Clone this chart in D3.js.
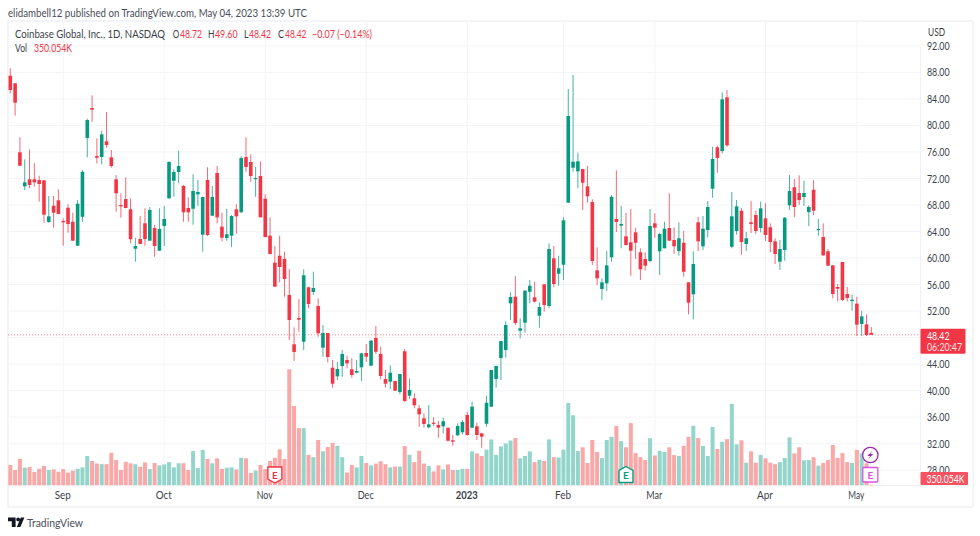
<!DOCTYPE html>
<html>
<head>
<meta charset="utf-8">
<script src="https://cdnjs.cloudflare.com/ajax/libs/d3/7.8.5/d3.min.js"></script>
<style>
  html, body { margin: 0; padding: 0; background: #fff; }
  svg { display: block; }
  text { font-family: Lato, sans-serif; }
</style>
</head>
<body>
<svg id="chart" width="980" height="536"></svg>
<script>
// one row of ten per line, first candle is 2022-08-17
const opens = [
  87.5,86.36,75.95,70.82,71.88,71.88,71.77,71.72,65.44,67.89,
  68.71,65.59,67.59,65.48,61.86,66.23,78.11,82.63,75.39,75.24,
  77.61,75.19,71.88,68.0,68.9,67.35,61.41,62.87,65.24,62.62,
  64.53,61.11,64.83,69.01,71.66,72.98,70.87,67.55,67.44,69.61,
  63.52,71.77,66.39,72.83,64.73,63.02,63.37,67.35,66.9,75.24,
  74.49,71.92,72.37,68.95,63.37,59.3,60.35,59.86,54.42,46.99,
  50.96,47.38,55.59,54.88,52.77,46.48,48.69,43.46,42.16,43.72,
  44.62,43.22,42.71,43.52,45.68,43.76,47.94,45.53,41.76,41.35,
  41.45,39.79,45.93,39.24,38.84,37.33,35.83,34.47,35.16,34.82,
  34.62,34.41,32.51,33.26,33.72,36.33,34.41,34.62,33.56,35.01,
  37.58,41.76,44.92,46.13,53.17,54.17,49.04,50.25,54.92,54.08,
  51.3,56.04,52.77,59.96,57.64,58.99,68.35,73.63,73.08,73.43,
  70.82,68.45,58.15,55.33,56.19,60.11,65.89,64.88,63.28,62.37,
  63.88,60.87,59.86,59.55,65.24,61.02,61.47,64.53,62.72,61.06,
  62.31,56.34,54.53,65.39,61.77,64.23,70.46,76.7,76.14,84.24,
  61.71,64.08,67.14,62.12,65.39,66.49,64.53,65.99,64.64,62.52,
  59.45,61.21,67.95,70.67,69.81,69.21,66.94,70.31,64.23,63.17,
  61.02,58.9,55.63,59.4,54.58,53.52,53.12,50.05,50,48.72
];
const highs = [
  88.62,86.36,78.21,74.89,76.4,74.29,72.42,71.77,69.36,69.36,
  70.37,65.99,68.11,66.84,68.75,73.28,81.02,84.55,78.06,79.21,
  82.03,76.3,72.52,69.76,72.18,69.01,63.07,66.34,67.5,67.7,
  64.98,67.5,67.85,74.59,73.38,76.19,71.02,69.16,72.63,71.77,
  69.25,73.69,70.87,73.88,66.84,67.44,66.49,68.11,75.39,78.21,
  75.65,73.73,74.59,69.61,66.14,61.82,63.37,60.96,58.35,49.55,
  53.82,58.3,55.68,57.94,53.93,49.9,48.69,44.62,44.32,46.13,
  45.27,44.88,44.62,45.72,47.03,47.64,49.75,46.63,43.11,43.82,
  41.5,42.55,46.28,41.86,39.6,37.83,36.58,37.83,35.98,35.42,
  35.92,34.41,33.31,35.07,35.57,36.82,38.33,35.17,33.61,39.24,
  43.11,43.76,47.49,50.46,54.83,57.29,50.91,55.18,56.69,56.43,
  53.33,56.04,62.22,61.82,60.35,66.14,85.5,87.61,75.89,73.43,
  73.88,68.86,61.62,56.94,61.06,69.51,73.23,67.85,66.84,67.4,
  64.58,61.47,60.87,67.4,66.75,63.82,65.48,69.76,64.64,65.39,
  64.08,56.34,61.02,66.19,66.34,68.6,76.79,76.94,85,85.35,
  69.96,68.75,67.55,63.93,68.6,67.14,68.5,68.26,65.24,62.98,
  62.72,66.19,72.52,71.92,72.48,71.66,67.95,71.77,65.89,65.24,
  61.36,58.95,56.08,59.4,55.63,54.47,54.17,52.06,51.51,49.6
];
const lows = [
  84.85,81.47,73.88,70.26,70.52,70.76,68.5,65.33,65.33,64.58,
  66.6,61.86,63.82,62.57,61.82,65.44,75.19,80.56,74.29,74.14,
  76.64,73.63,66.99,66.08,67.5,62.22,59.45,62.12,61.86,62.62,
  60.2,61.11,61.82,68.95,69.25,71.27,65.48,65.48,65.03,67.85,
  60.96,63.32,66.34,65.24,62.52,62.62,61.66,63.67,66.84,73.02,
  71.51,69.25,66.14,63.13,60.56,55.68,56.34,54.17,47.64,44.47,
  48.89,46.13,52.42,54.42,48.13,45.12,44.27,40.45,41.6,42.1,
  43.37,41.95,42.62,41.45,44.32,43.72,45.53,41.71,40.45,40.25,
  39.95,39.49,38.33,38.74,37.33,34.56,34.41,34.32,34.67,32.9,
  33.56,32.3,31.7,33.2,33.41,33.2,34.32,32.56,31.39,34.56,
  37.58,40.45,41.6,44.97,50.66,49.9,47.89,48.74,53.17,53.33,
  49.49,51.91,52.42,55.59,55.83,56.69,68.35,73.02,70.52,67.25,
  68.35,58.95,55.93,53.67,55.03,59.45,63.93,61.47,61.86,57.34,
  59.86,56.69,58.09,59.36,63.07,57.44,61.47,62.62,60.61,60.35,
  57.19,51.51,50.76,61.06,61.21,63.13,69.1,72.87,75.8,76.79,
  61.47,63.52,60.5,61.06,63.78,63.67,63.88,62.57,60.87,59.1,
  58.2,59.6,67.25,66.19,68,67.85,64.83,66.49,63.37,60.31,
  58.8,53.93,53.52,53.57,53.47,52.06,48.24,48.24,48.24,48.42
];
const closes = [
  85.35,83.43,73.93,71.42,71.02,71.42,71.17,66.54,66.29,66.84,
  66.64,65.39,65.13,62.62,68.2,73.02,80.82,82.37,75.13,78.66,
  77.05,73.88,69.76,67.8,67.55,62.83,61.82,62.12,62.87,67.25,
  61.82,64.38,65.89,74.49,72.98,73.88,66.9,66.9,70.11,69.96,
  69.21,63.48,69.21,66.14,63.07,63.58,66.34,66.29,75.09,73.73,
  72.37,72.07,66.14,63.17,60.61,55.68,58.65,56.84,50.66,45.83,
  50.7,57.4,53.07,55.48,48.65,48.69,45.07,41.05,43.27,45.53,
  44.12,42.36,42.96,45.63,45.12,47.53,45.87,42.21,41.05,42.71,
  39.99,42.51,38.44,40.1,37.79,36.43,34.97,34.92,35.01,34.41,
  35.38,32.45,32.3,34.67,35.27,33.31,37.58,33.31,33.05,38.18,
  43.11,43.72,47.49,49.9,54.12,50.2,49.4,55.07,55.83,53.42,
  52.62,52.92,61.36,56.08,58.45,65.69,81.42,74.53,74.59,71.36,
  69.31,59.56,56.94,56.34,58.9,69.25,65.44,65.13,61.97,61.11,
  62.31,58.3,58.85,64.83,64.58,63.63,64.43,62.62,61.77,62.98,
  57.94,53.26,59.1,62.52,64.43,67.7,74.94,75.09,83.94,77,
  66.29,67.8,62.42,62.98,65.13,64.08,67.5,63.48,62.42,60.61,
  61.36,66.08,70.11,67.7,68.75,69.81,67.7,67.14,64.38,60.41,
  58.85,54.58,55.38,53.67,53.97,53.72,49.95,51.21,48.39,48.42
];
// volume in millions
const volumes = [
  7.1,5.4,9.2,6.2,6.4,4.7,5.8,6.8,5.4,5.6,
  4.8,5.7,4.5,5.2,5.8,6.3,10.2,8.5,7.6,7.4,
  7.4,11.3,8.8,5.4,8.2,7.7,7.4,6.5,8.0,5.7,
  7.8,7.0,7.3,8.1,6.3,7.7,7.7,5.4,11.9,6.1,
  12.3,9.2,7.7,9.4,5.8,6.2,6.3,5.6,9.6,9.4,
  4.4,5.2,7.1,5.7,8.5,9.6,12.5,9.2,40,27.4,
  19.8,19.8,10.6,9.8,15.7,11.8,13.3,14.7,13.7,9.8,
  4.5,7.1,6.3,10.2,7.8,7.0,7.6,8.4,7.4,6.3,
  6.6,6.6,13.6,10.6,8.1,12.0,7.6,6.8,4.9,7.0,
  5.6,7.3,5.4,5.4,5.8,5.8,11.8,11.1,10.2,12.4,
  15.9,10.6,13.5,14.5,15.5,16.4,9.4,10.2,11.8,8.1,
  8.9,8.5,15.9,9.8,9.7,12.4,28.4,24.2,11.9,13.2,
  7.8,15.7,11.6,9.5,15.7,16.8,20.5,15.3,13.2,21.5,
  11.2,9.8,8.8,16.3,10.4,12.0,11.6,13.2,10.5,10.2,
  13.7,16.8,20.6,16.4,13.7,10.2,20.2,12.6,15.1,16.0,
  28.1,14.2,15.6,7.9,11.8,7.9,10.6,9.4,7.9,7.4,
  8.1,9.5,16.6,11.1,13.2,8.7,8.8,9.8,6.9,7.8,
  8.9,14.0,9.6,11.2,8.1,7.8,12.3,11.1,7.7,0.35
];
const holidays = ["2022-09-05","2022-11-24","2022-12-26","2023-01-02","2023-01-16","2023-02-20","2023-04-07"];
const monthTicks = ["2022-09-01","2022-10-03","2022-11-01","2022-12-01","2023-01-03","2023-02-01","2023-03-01","2023-04-03","2023-05-01"];
const monthLabels = ["Sep","Oct","Nov","Dec","2023","Feb","Mar","Apr","May"];
const priceTicks = [28,32,36,40,44,48,52,56,60,64,68,72,76,80,84,88,92];
const earningsDays = ["2022-11-03","2023-02-21"];
const lastDay = "2023-05-04";
const lastPrice = 48.42, countdown = "06:20:47", lastVolume = "350.054K";

const GREEN = "#089981", RED = "#f23645", INK = "#3b3f4a";
const left = 8, right = 920, frameRight = 973, frameTop = 21, frameBottom = 507, volBase = 485.7;

// Lato runs a bit wide next to the original font, pull the glyphs in to the width
let label = (xPos, yPos, str, width, color) =>
  svg.append("text").attr("x", xPos).attr("y", yPos).attr("font-size", 11).attr("fill", color || INK)
    .attr("textLength", width).attr("lengthAdjust", "spacingAndGlyphs").text(str);

// trading days, weekends and market holidays dropped
const fmt = d3.utcFormat("%Y-%m-%d");
const dates = d3.utcDay.range(new Date("2022-08-17"), new Date("2023-05-05"))
  .filter(d => d.getUTCDay() % 6 !== 0 && !holidays.includes(fmt(d)))
  .map(fmt);

const x = d3.scalePoint().domain(dates).range([10.3, 871.3]);
const y = d3.scaleLinear().domain([28, 92]).range([470.2, 45.9]);
const v = d3.scaleLinear().domain([0, 40]).range([volBase, 369.3]);

const svg = d3.select("#chart");

label(8, 16.5, "elidambell12 published on TradingView.com, May 04, 2023 13:39 UTC", 299, "#4a4e59");

svg.append("rect").attr("x", left).attr("y", frameTop).attr("width", frameRight - left).attr("height", frameBottom - frameTop)
  .attr("fill", "#fff").attr("stroke", "#e8eaf0");

// grid
svg.append("g").selectAll("line").data(priceTicks).join("line")
  .attr("x1", left).attr("x2", right).attr("y1", d => y(d)).attr("y2", d => y(d))
  .attr("stroke", "#f3f4f8");
svg.append("g").selectAll("line").data(monthTicks).join("line")
  .attr("x1", d => x(d)).attr("x2", d => x(d)).attr("y1", frameTop).attr("y2", volBase)
  .attr("stroke", "#f3f4f8");

// volume
svg.append("g").selectAll("rect").data(dates).join("rect")
  .attr("x", d => x(d) - 2)
  .attr("width", 4)
  .attr("y", (d, i) => v(volumes[i]))
  .attr("height", (d, i) => volBase - v(volumes[i]))
  .attr("fill", (d, i) => closes[i] >= opens[i] ? "#93d5ca" : "#f9a7a7");

// last price line
svg.append("line").attr("x1", left).attr("x2", right).attr("y1", y(lastPrice)).attr("y2", y(lastPrice))
  .attr("stroke", RED).attr("stroke-opacity", 0.6).attr("stroke-dasharray", "1 2");

// candles
const candle = svg.append("g").selectAll("g").data(dates).join("g")
  .attr("fill", (d, i) => closes[i] >= opens[i] ? GREEN : RED)
  .attr("stroke", (d, i) => closes[i] >= opens[i] ? GREEN : RED);
candle.append("line")
  .attr("x1", d => x(d)).attr("x2", d => x(d))
  .attr("y1", (d, i) => y(highs[i])).attr("y2", (d, i) => y(lows[i]))
  .attr("stroke-width", 1).attr("stroke-opacity", 0.75);
candle.append("rect")
  .attr("stroke", "none")
  .attr("x", d => x(d) - 1.8)
  .attr("width", 3.6)
  .attr("y", (d, i) => y(Math.max(opens[i], closes[i])))
  .attr("height", (d, i) => Math.max(1.2, Math.abs(y(opens[i]) - y(closes[i]))));

// axes
const priceAxis = svg.append("g").attr("transform", "translate(" + right + ",0)")
  .call(d3.axisRight(y).tickValues(priceTicks).tickFormat(d3.format(".2f")).tickSize(0).tickPadding(7));
const timeAxis = svg.append("g").attr("transform", "translate(0," + volBase + ")")
  .call(d3.axisBottom(x).tickValues(monthTicks).tickFormat(d => monthLabels[monthTicks.indexOf(d)]).tickSize(0).tickPadding(6));
priceAxis.select(".domain").attr("stroke", "#f0f1f5");
timeAxis.select(".domain").remove();
svg.append("line").attr("x1", left).attr("x2", right).attr("y1", volBase).attr("y2", volBase).attr("stroke", "#eceef3");
[priceAxis, timeAxis].forEach(a => a.selectAll("text")
  .attr("font-family", "Lato, sans-serif").attr("font-size", 11).attr("fill", INK).attr("lengthAdjust", "spacingAndGlyphs"));
priceAxis.selectAll("text").attr("textLength", 22.5);
// 48.00 sits behind the last price tag in the original
priceAxis.selectAll(".tick").filter(d => d === 48).remove();
timeAxis.selectAll("text").attr("dx", -1).attr("textLength", d => d === "2023-01-03" ? 22 : 16);
timeAxis.selectAll("text").filter(d => d === "2023-01-03").attr("font-weight", 700);

label(928, 36, "USD", 17);

// price and volume labels
svg.append("rect").attr("x", 920.5).attr("y", y(lastPrice) - 6).attr("width", 45).attr("height", 25).attr("rx", 1).attr("fill", RED);
label(927, y(lastPrice) + 4.8, lastPrice.toFixed(2), 22.5, "#fff");
label(927, y(lastPrice) + 16.5, countdown, 35, "#fde3e5");
svg.append("rect").attr("x", 920.5).attr("y", 472).attr("width", 47.5).attr("height", 13).attr("rx", 1).attr("fill", "#f7525f");
label(926.5, 482.5, lastVolume, 38, "#fff");

// legend
label(15, 38, "Coinbase Global, Inc., 1D, NASDAQ", 150);
label(172.8, 38, "O", 6.5);
label(180, 38, "48.72", 22, RED);
label(208, 38, "H", 6.5);
label(215, 38, "49.60", 22.5, RED);
label(244, 38, "L", 4.5);
label(249, 38, "48.42", 22, RED);
label(278, 38, "C", 6);
label(285, 38, "48.42", 21.5, RED);
label(312, 38, "−0.07 (−0.14%)", 60, RED);
label(15, 51.5, "Vol", 12);
label(34, 51.5, lastVolume, 38, RED);

// earnings badges
earningsDays.forEach((d, i) => {
  const color = i === 0 ? RED : GREEN;
  const cx = x(d), top = i === 0 ? 467 : 466.5, h = 16;
  const shape = i === 0
    ? [[-7, 0], [7, 0], [7, h - 4], [0, h], [-7, h - 4]]
    : [[0, 0], [7, 4], [7, h], [-7, h], [-7, 4]];
  svg.append("polygon").attr("points", shape.map(p => (cx + p[0]) + "," + (top + p[1])).join(" "))
    .attr("fill", "#fff").attr("stroke", color).attr("stroke-width", 1.4);
  svg.append("text").attr("x", cx).attr("y", top + 12).attr("text-anchor", "middle")
    .attr("font-size", 10).attr("font-weight", 700).attr("fill", color).text("E");
});

// next dividend/earnings markers on the last day
const lx = x(lastDay) - 1;
svg.append("circle").attr("cx", lx).attr("cy", 455).attr("r", 7.7).attr("fill", "#fff").attr("stroke", "#9c27b0").attr("stroke-width", 1.3);
svg.append("path").attr("d", `M${lx + 2.5},450.5 L${lx - 3},456 H${lx} L${lx - 2.5},459.5 L${lx + 3},454 H${lx}Z`).attr("fill", "#9c27b0");
svg.append("rect").attr("x", lx - 7.5).attr("y", 467.5).attr("width", 15).attr("height", 14.5).attr("rx", 1)
  .attr("fill", "#fff").attr("stroke", "#e04fe8").attr("stroke-width", 1.3);
svg.append("text").attr("x", lx).attr("y", 479).attr("text-anchor", "middle")
  .attr("font-size", 10).attr("font-weight", 700).attr("fill", "#e04fe8").text("E");

// logo
svg.append("path").attr("d", "M8,517.5h7.6v9.6h-3.8v-5.8h-3.8z M20.8,517.5h3.6l-4,9.6h-3.6z").attr("fill", "#131722");
svg.append("circle").attr("cx", 18.2).attr("cy", 519.4).attr("r", 1.9).attr("fill", "#131722");
label(27, 526.5, "TradingView", 56, "#4a4e59");
</script>
</body>
</html>
